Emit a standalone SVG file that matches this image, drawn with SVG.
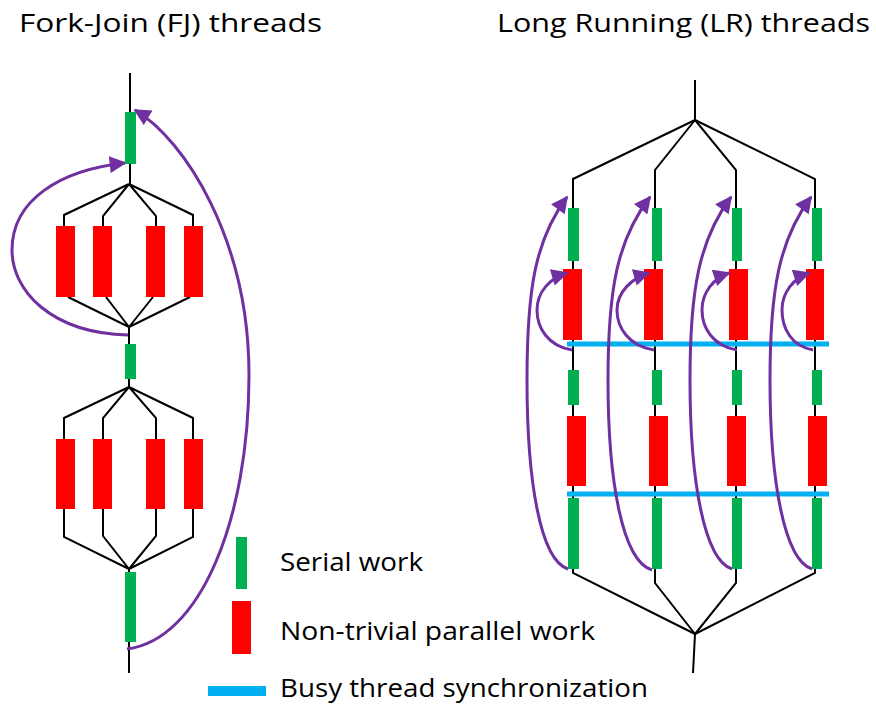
<svg xmlns="http://www.w3.org/2000/svg" width="876" height="705" viewBox="0 0 876 705">
<defs>
<marker id="arr" viewBox="0 0 10 10" refX="9" refY="5" markerWidth="18" markerHeight="17" markerUnits="userSpaceOnUse" orient="auto">
<path d="M0,0 L10,5 L0,10 z" fill="#7030A0"/>
</marker>
<style>
.ln{fill:none;stroke:#000;stroke-width:2;stroke-linejoin:miter}
.pu{fill:none;stroke:#7030A0;stroke-width:3;marker-end:url(#arr)}
.g{fill:#00B050}
.r{fill:#FF0000}
.b{stroke:#00B0F0;stroke-width:5}
.t{font-family:"Open Sans","Noto Sans","Liberation Sans",sans-serif;font-size:25.5px;fill:#000}
</style>
</defs>
<rect width="876" height="705" fill="#fff"/>

<text class="t" x="19" y="32" textLength="303" lengthAdjust="spacingAndGlyphs">Fork-Join (FJ) threads</text>
<text class="t" x="497" y="32" textLength="373" lengthAdjust="spacingAndGlyphs">Long Running (LR) threads</text>

<g id="connectors">
<path class="ln" d="M130,73 V112 M130,164 V184 M129,184 L64,215 V226 M129,184 L103,216 V226 M129,184 L156,216 V226 M129,184 L193,215 V226"/>
<path class="ln" d="M68,297 L129,327 M106,297 L129,327 M153,297 L129,327 M190,297 L129,327 M129,327 V344 M129,379 V387"/>
<path class="ln" d="M129,387 L64,418 V439 M129,387 L103,418 V439 M129,387 L156,418 V439 M129,387 L193,418 V439"/>
<path class="ln" d="M64,509 V537 L129,569 M103,509 V536 L129,569 M156,509 V536 L129,569 M193,509 V537 L129,569 M129,569 V572 M129,642 V673"/>
<path class="pu" d="M128,335 C50,333 12,290 12,250 C12,200 60,170 125,163"/>
<path class="pu" d="M127,649 C200,640 249,520 249,375 C249,240 185,140 135,110"/>

<path class="ln" d="M695,80 V120 M695,634 L693,673"/>
<path class="ln" d="M695,120 L573,179 V573 L695,634"/>
<path class="ln" d="M695,120 L655,170 V583 L695,634"/>
<path class="ln" d="M695,120 L736,170 V583 L695,634"/>
<path class="ln" d="M695,120 L815,179 V573 L695,634"/>
</g>

<g id="fj-nodes">
<rect class="g" x="125" y="112" width="11" height="52"/>
<rect class="r" x="56" y="226" width="19" height="71"/>
<rect class="r" x="93" y="226" width="19" height="71"/>
<rect class="r" x="146" y="226" width="19" height="71"/>
<rect class="r" x="184" y="226" width="19" height="71"/>
<rect class="g" x="125" y="344" width="11" height="35"/>
<rect class="r" x="56" y="439" width="19" height="70"/>
<rect class="r" x="93" y="439" width="19" height="70"/>
<rect class="r" x="146" y="439" width="19" height="70"/>
<rect class="r" x="184" y="439" width="19" height="70"/>
<rect class="g" x="125" y="572" width="11" height="70"/>
</g>

<g id="lr-nodes">
<rect class="g" x="568" y="208" width="11" height="53"/>
<rect class="g" x="652" y="208" width="10" height="53"/>
<rect class="g" x="732" y="208" width="10" height="53"/>
<rect class="g" x="812" y="208" width="10" height="53"/>
<rect class="r" x="563" y="269" width="19" height="71"/>
<rect class="r" x="644" y="269" width="19" height="71"/>
<rect class="r" x="729" y="269" width="19" height="71"/>
<rect class="r" x="806" y="269" width="18" height="71"/>
<rect class="g" x="568" y="370" width="11" height="35"/>
<rect class="g" x="652" y="370" width="10" height="35"/>
<rect class="g" x="732" y="370" width="10" height="35"/>
<rect class="g" x="812" y="370" width="10" height="35"/>
<rect class="r" x="567" y="416" width="19" height="70"/>
<rect class="r" x="649" y="416" width="19" height="70"/>
<rect class="r" x="727" y="416" width="19" height="70"/>
<rect class="r" x="808" y="416" width="19" height="70"/>
<rect class="g" x="568" y="498" width="11" height="71"/>
<rect class="g" x="652" y="498" width="10" height="71"/>
<rect class="g" x="732" y="498" width="10" height="71"/>
<rect class="g" x="812" y="498" width="10" height="71"/>
</g>

<g id="sync">
<line class="b" x1="567" y1="344" x2="829" y2="344"/>
<line class="b" x1="567" y1="494" x2="829" y2="494"/>
</g>

<g id="lr-arrows">
<path class="pu" d="M572,350 C548,346 537,328 537,310 C537,292 550,278 567,273"/>
<path class="pu" d="M654,350 C629,346 617,328 617,310 C617,292 632,278 649,273"/>
<path class="pu" d="M737,350 C713,346 702,328 702,310 C702,292 714,278 729,273"/>
<path class="pu" d="M813,350 C791,346 782,328 782,310 C782,292 794,278 809,273"/>
<path class="pu" d="M568,569 C540,560 527,480 527,380 C527,290 535,240 567,197"/>
<path class="pu" d="M652,570 C622,561 608,480 608,380 C608,290 617,240 650,197"/>
<path class="pu" d="M732,569 C704,560 690,480 690,380 C690,290 699,240 731,197"/>
<path class="pu" d="M812,569 C784,560 770,480 770,380 C770,290 779,240 811,197"/>
</g>

<g id="legend">
<rect class="g" x="236" y="537" width="11" height="52"/>
<rect class="r" x="232" y="601" width="19" height="53"/>
<rect x="208" y="686" width="58" height="10" fill="#00B0F0"/>
<text class="t" x="280" y="571" textLength="143" lengthAdjust="spacingAndGlyphs">Serial work</text>
<text class="t" x="280" y="640" textLength="315" lengthAdjust="spacingAndGlyphs">Non-trivial parallel work</text>
<text class="t" x="280" y="697" textLength="368" lengthAdjust="spacingAndGlyphs">Busy thread synchronization</text>
</g>
</svg>
